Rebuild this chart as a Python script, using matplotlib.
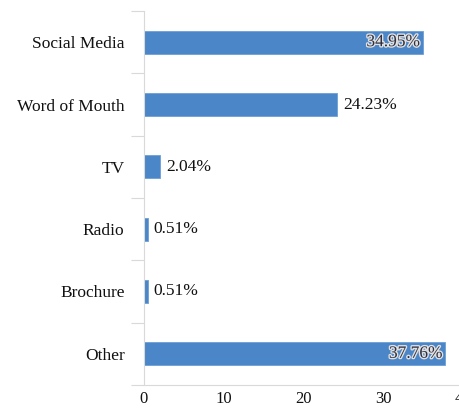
import matplotlib.pyplot as plt
import matplotlib.patheffects as pe
import numpy as np

categories = ['Social Media', 'Word of Mouth', 'TV', 'Radio', 'Brochure', 'Other']
values = [34.95, 24.23, 2.04, 0.51, 0.51, 37.76]
labels = ['34.95%', '24.23%', '2.04%', '0.51%', '0.51%', '37.76%']
xticks = [0, 10, 20, 30, 40]

plt.rcParams['font.family'] = ['Liberation Serif', 'DejaVu Serif']

fig = plt.figure(figsize=(4.6, 4.08), dpi=100)
ax = fig.add_axes([0.313, 0.0564, 0.6935, 0.9166])

y = np.arange(len(categories))
bars = ax.barh(y, values, height=0.37, color='#4a86c8', edgecolor='#6b9fd6', linewidth=0.6)
ax.set_ylim(len(categories) - 0.5, -0.5)
ax.set_xlim(0, 40)

# labels: inside for long bars, outside for short ones
for yi, v, lab in zip(y, values, labels):
    if v > 30:
        ax.annotate(lab, (v, yi), xytext=(-2, 0), textcoords='offset points',
                    ha='right', va='center', fontsize=12.5, color='#2e2e3e',
                    path_effects=[pe.withStroke(linewidth=2, foreground='#e0e0e0')])
    else:
        ax.annotate(lab, (v, yi), xytext=(4, 0), textcoords='offset points',
                    ha='left', va='center', fontsize=12.5, color='#111111')

ax.set_yticks(y)
ax.set_yticklabels(categories, fontsize=12.5, color='#111111')
ax.set_yticks(np.arange(-0.5, len(categories)), minor=True)
ax.tick_params(axis='y', which='major', length=0, pad=14)
ax.tick_params(axis='y', which='minor', length=9.5, color='#d9d9d9', width=0.8)

ax.set_xticks(xticks)
ax.set_xticklabels([str(t) for t in xticks], fontsize=12, color='#111111')
ax.tick_params(axis='x', length=0, pad=4)

for s in ['top', 'right']:
    ax.spines[s].set_visible(False)
ax.spines['left'].set_color('#d9d9d9')
ax.spines['bottom'].set_color('#d9d9d9')
ax.spines['left'].set_linewidth(0.8)
ax.spines['bottom'].set_linewidth(0.8)

fig.savefig('out.png', dpi=100)
